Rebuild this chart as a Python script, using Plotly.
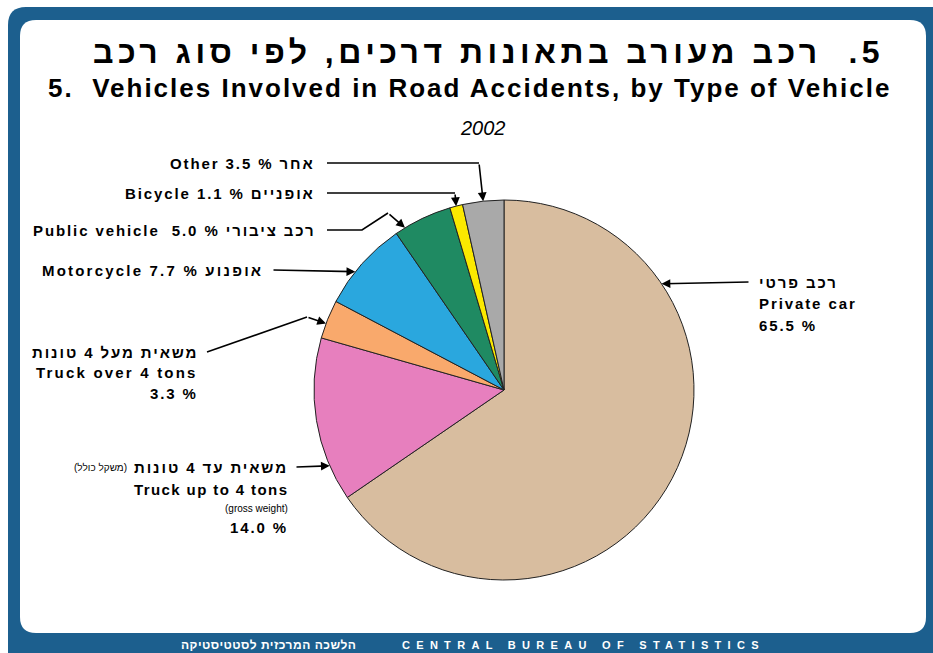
import math
import plotly.graph_objects as go

# ---------------- data ----------------
categories_en = ["Private car", "Truck up to 4 tons", "Truck over 4 tons", "Motorcycle",
                 "Public vehicle", "Bicycle", "Other"]
categories_he = ["רכב פרטי", "משאית עד 4 טונות", "משאית מעל 4 טונות", "אופנוע",
                 "רכב ציבורי", "אופניים", "אחר"]
values = [65.5, 14.0, 3.3, 7.7, 5.0, 1.1, 3.5]
colors = ["#d8bd9f", "#e77fbe", "#f9a96c", "#2aa7de", "#1f8a62", "#fbe900", "#a9a9a9"]

title_he = "\u202B5.  רכב מעורב בתאונות דרכים, לפי סוג רכב\u202C"
title_en = "5.  Vehicles Involved in Road Accidents, by Type of Vehicle"
subtitle = "2002"
footer_he = "הלשכה המרכזית לסטטיסטיקה"
footer_en = "CENTRAL BUREAU OF STATISTICS"

# ---------------- layout geometry (pixels) ----------------
W, H = 933, 653
CX, CY, R = 504, 390, 190
BLUE = "#1c5f8e"

fig = go.Figure()

fig.add_trace(go.Pie(
    labels=categories_en, values=values, sort=False, direction="clockwise", rotation=0,
    marker=dict(colors=colors, line=dict(color="#222222", width=1)),
    textinfo="none", hoverinfo="label+percent",
    domain=dict(x=[(CX - R) / W, (CX + R) / W], y=[(H - CY - R) / H, (H - CY + R) / H]),
    showlegend=False,
))

def tip(angle_deg):
    a = math.radians(angle_deg)
    return CX + R * math.sin(a), CY - R * math.cos(a)

# callouts: (angle on pie edge, polyline points before the tip)
callouts = [
    (56.0, [(750, 282)]),                       # private car
    (246.5, [(295, 467)]),                      # truck up to 4
    (290.5, [(207, 352), (307, 317)]),          # truck over 4
    (308.5, [(272, 270)]),                      # motorcycle
    (328.6, [(327, 230), (362, 230), (388, 213)]),  # public vehicle
    (345.4, [(327, 193), (455, 193)]),          # bicycle
    (353.7, [(327, 163), (479, 163)]),          # other
]

annotations = []
for ang, pts in callouts:
    tx, ty = tip(ang)
    if len(pts) > 1:
        fig.add_trace(go.Scatter(x=[p[0] for p in pts], y=[p[1] for p in pts], mode="lines",
                                 line=dict(color="black", width=1.6), hoverinfo="skip",
                                 showlegend=False))
    lx, ly = pts[-1]
    annotations.append(dict(x=tx, y=ty, ax=lx, ay=ly, xref="x", yref="y", axref="x", ayref="y",
                            text="", showarrow=True, arrowhead=2, arrowsize=1.1,
                            arrowwidth=1.6, arrowcolor="black", standoff=0))

def txt(x, y, s, size=15, anchor="right", color="black", bold=True, italic=False,
        spacing=1.9, family="Liberation Sans"):
    t = s
    if spacing:
        t = f'<span style="letter-spacing:{spacing}px">' + t + "</span>"
    if bold:
        t = "<b>" + t + "</b>"
    if italic:
        t = "<i>" + t + "</i>"
    annotations.append(dict(x=x, y=y, xref="x", yref="y", text=t, showarrow=False,
                            xanchor=anchor, yanchor="middle",
                            font=dict(family=family, size=size, color=color)))

pct = ["%.1f %%" % v for v in values]

# titles
txt(488, 52, title_he, size=32, anchor="center", spacing=4.5)
txt(469, 88, title_en, size=26, anchor="center", spacing=2)
txt(483, 128, subtitle, size=20, anchor="center", bold=False, italic=True, spacing=0)

# private car
txt(757, 282, categories_he[0], anchor="left")
txt(757, 303, categories_en[0], anchor="left")
txt(757, 325, pct[0], anchor="left")
# truck up to 4
txt(290, 467, categories_he[1], anchor="right")
txt(129, 467, "\u202B(משקל כולל)\u202C", size=10, anchor="right", bold=False, spacing=0)
txt(290, 489, categories_en[1], anchor="right", spacing=1.4)
txt(290, 508, "(gross weight)", size=10, anchor="right", bold=False, spacing=0)
txt(290, 527, pct[1], anchor="right")
# truck over 4
txt(200, 352, categories_he[2], anchor="right")
txt(200, 372, categories_en[2], anchor="right", spacing=2.2)
txt(200, 393, pct[2], anchor="right")
# single-line labels
txt(265, 270, categories_en[3] + " " + pct[3] + " " + categories_he[3], anchor="right", spacing=2.2)
txt(318, 230, categories_en[4] + "  " + pct[4] + " " + categories_he[4], anchor="right")
txt(317, 193, categories_en[5] + " " + pct[5] + " " + categories_he[5], anchor="right")
txt(317, 163, categories_en[6] + " " + pct[6] + " " + categories_he[6], anchor="right")

# footer
txt(358, 645, footer_he, size=12, anchor="right", color="white", spacing=0.5)
txt(400, 645, footer_en, size=11, anchor="left", color="white", spacing=6.3)

def rrect(x0, y0, x1, y1, r):
    return (f"M{x0+r},{y0} L{x1-r},{y0} Q{x1},{y0} {x1},{y0+r} L{x1},{y1-r} Q{x1},{y1} {x1-r},{y1} "
            f"L{x0+r},{y1} Q{x0},{y1} {x0},{y1-r} L{x0},{y0+r} Q{x0},{y0} {x0+r},{y0} Z")

shapes = [
    dict(type="path", path=rrect(8, 7, 955, 680, 18), xref="x", yref="y",
         fillcolor=BLUE, line=dict(width=0), layer="below"),
    dict(type="path", path=rrect(20, 20, 926, 633, 16), xref="x", yref="y",
         fillcolor="white", line=dict(width=0), layer="below"),
]

fig.update_layout(
    width=W, height=H, margin=dict(l=0, r=0, t=0, b=0),
    paper_bgcolor="white", plot_bgcolor="rgba(0,0,0,0)",
    xaxis=dict(range=[0, W], visible=False, fixedrange=True),
    yaxis=dict(range=[H, 0], visible=False, fixedrange=True),
    shapes=shapes, annotations=annotations, showlegend=False,
)

fig.write_html("out.html")
